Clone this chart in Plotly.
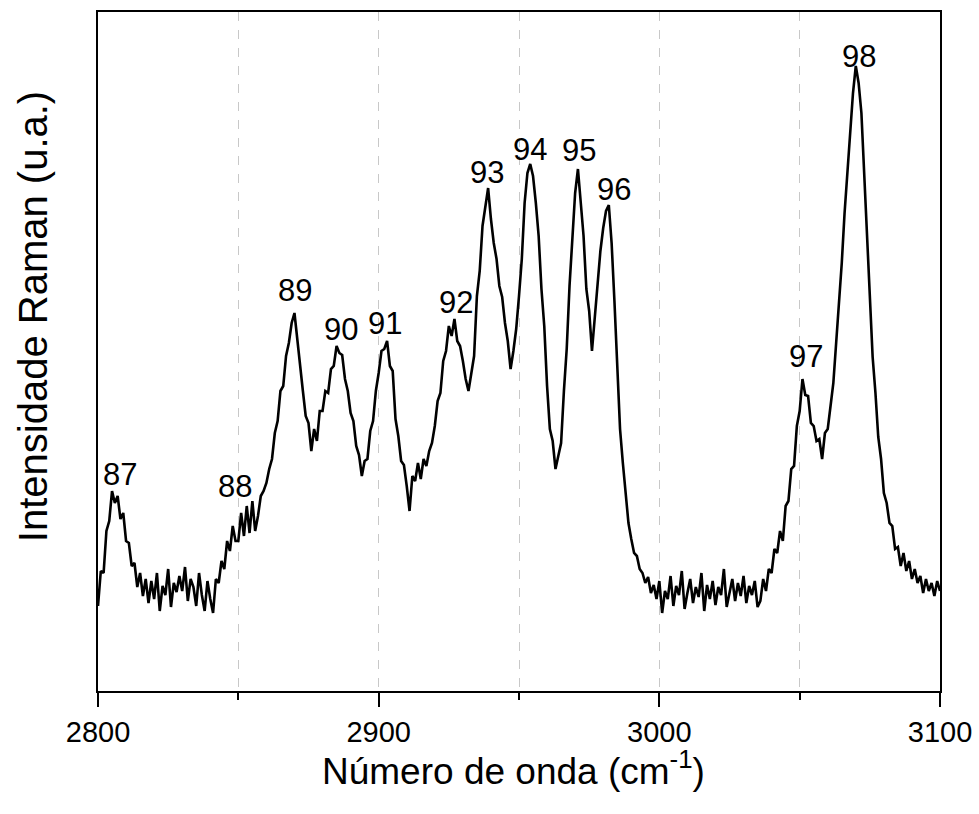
import plotly.graph_objects as go

# Wavenumber grid (cm^-1), one reading per 1 cm^-1
wavenumber = list(range(2800, 3101))

# Raman intensity (arbitrary units)
intensity = [
    85, 120, 118, 160, 170, 200, 188, 195, 172, 178,      # 2800
    150, 148, 125, 128, 104, 118, 95, 112, 88, 110,       # 2810
    92, 118, 80, 105, 96, 122, 84, 108, 99, 115,          # 2820
    100, 124, 90, 112, 104, 85, 118, 96, 80, 110,         # 2830
    92, 78, 112, 108, 130, 122, 150, 140, 165, 150,       # 2840
    150, 178, 155, 185, 158, 190, 160, 175, 195, 200,     # 2850
    208, 222, 232, 258, 270, 300, 305, 335, 348, 368,     # 2860
    378, 350, 322, 300, 275, 268, 240, 262, 250, 280,     # 2870
    280, 300, 298, 322, 325, 345, 338, 336, 312, 300,     # 2880
    278, 270, 245, 236, 215, 230, 232, 260, 270, 300,     # 2890
    318, 340, 342, 350, 325, 320, 272, 255, 230, 226,     # 2900
    205, 180, 215, 210, 228, 212, 232, 225, 240, 248,     # 2910
    265, 290, 298, 330, 340, 365, 355, 372, 350, 345,     # 2920
    330, 312, 300, 318, 335, 395, 420, 465, 485, 503,     # 2930
    472, 448, 432, 405, 394, 368, 350, 322, 340, 362,     # 2940
    395, 432, 488, 518, 527, 515, 488, 455, 402, 365,     # 2950
    305, 262, 250, 222, 235, 248, 300, 342, 405, 448,     # 2960
    498, 522, 488, 455, 402, 380, 340, 375, 402, 440,     # 2970
    463, 480, 486, 448, 390, 328, 262, 228, 198, 168,     # 2980
    152, 138, 135, 122, 118, 108, 114, 98, 106, 92,       # 2990
    110, 78, 100, 92, 115, 85, 105, 96, 120, 82,          # 3000
    98, 112, 88, 104, 94, 118, 80, 106, 92, 110,          # 3010
    86, 104, 96, 122, 84, 100, 112, 90, 108, 95,          # 3020
    115, 88, 105, 96, 110, 84, 90, 112, 100, 122,         # 3030
    118, 142, 138, 160, 150, 185, 190, 222, 225, 265,     # 3040
    280, 312, 296, 295, 268, 265, 250, 252, 232, 258,     # 3050
    262, 285, 308, 348, 385, 428, 478, 515, 560, 598,     # 3060
    625, 608, 578, 518, 444, 393, 334, 298, 254, 232,     # 3070
    198, 188, 168, 165, 142, 144, 125, 138, 120, 130,     # 3080
    112, 122, 108, 115, 98, 112, 100, 108, 95, 110,       # 3090
    100,                                                  # 3100
]

# Peak labels
peak_labels = ["87", "88", "89", "90", "91", "92", "93", "94", "95", "96", "97", "98"]
peak_label_x = [2808, 2848.8, 2870.1, 2886.5, 2902.3, 2927.5, 2938.6, 2953.9, 2971.4, 2983.9, 3052.2, 3071.1]
peak_label_y = [217, 205, 401, 362, 368, 389, 519, 542, 541, 502, 335, 635]

x_ticks = [2800, 2900, 3000, 3100]
x_tick_text = ["2800", "2900", "3000", "3100"]

FONT = "Arial, 'Liberation Sans', Helvetica, sans-serif"

fig = go.Figure()
fig.add_trace(go.Scatter(
    x=wavenumber, y=intensity, mode="lines",
    line=dict(color="black", width=2.6),
    hoverinfo="skip", showlegend=False,
))

for t, xx, yy in zip(peak_labels, peak_label_x, peak_label_y):
    fig.add_annotation(x=xx, y=yy, text=t, showarrow=False,
                       font=dict(family=FONT, size=31, color="black"),
                       xanchor="center", yanchor="middle")

# Axis titles as annotations for precise placement
fig.add_annotation(xref="paper", yref="paper", x=0.494, y=-0.114,
                   text="Número de onda (cm<sup>-1</sup>)", showarrow=False,
                   font=dict(family=FONT, size=37, color="black"),
                   xanchor="center", yanchor="middle")
fig.add_annotation(xref="paper", yref="paper", x=-0.0772, y=0.552,
                   text="Intensidade Raman (u.a.)", showarrow=False, textangle=-90,
                   font=dict(family=FONT, size=40, color="black"),
                   xanchor="center", yanchor="middle")

fig.update_layout(
    width=979, height=814,
    margin=dict(l=98, r=39, t=12, b=123, autoexpand=False),
    paper_bgcolor="white", plot_bgcolor="white",
    font=dict(family=FONT, color="black"),
    showlegend=False,
)

fig.update_xaxes(
    range=[2800, 3100], automargin=False,
    tickvals=x_ticks, ticktext=x_tick_text,
    ticks="outside", ticklen=14, tickwidth=2, tickcolor="black",
    tickfont=dict(family=FONT, size=29, color="black"),
    showline=True, linewidth=2, linecolor="black", mirror=True,
    showgrid=True, gridcolor="#c8c8c8", gridwidth=1, griddash="dash",
    minor=dict(dtick=50, tick0=2800, ticks="outside", ticklen=7, tickwidth=2, tickcolor="black",
               showgrid=True, gridcolor="#c8c8c8", gridwidth=1, griddash="dash"),
    zeroline=False,
)

fig.update_yaxes(
    range=[0, 679], automargin=False,
    showticklabels=False, ticks="",
    showline=True, linewidth=2, linecolor="black", mirror=True,
    showgrid=False, zeroline=False,
)

fig.write_html("out.html")
